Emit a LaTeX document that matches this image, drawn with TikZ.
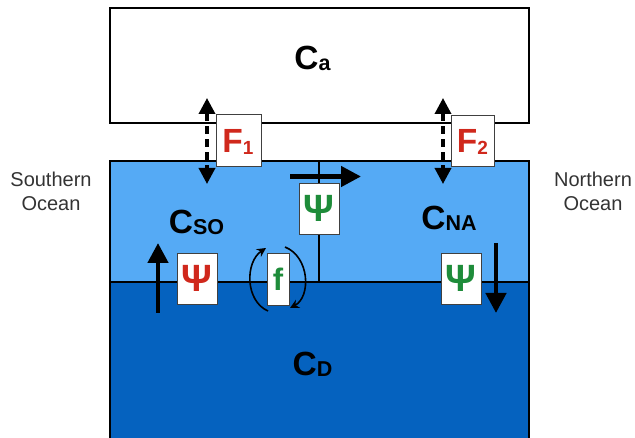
\documentclass[tikz,border=0pt]{standalone}
\usepackage{fontspec}
\setmainfont{Liberation Sans}
\usetikzlibrary{arrows.meta}
\definecolor{lightsea}{HTML}{55AAF5}
\definecolor{deepsea}{HTML}{0562BF}
\definecolor{fred}{HTML}{D0281C}
\definecolor{psigreen}{HTML}{1E8C3A}
\definecolor{oceantext}{HTML}{333333}
\newcommand{\cname}[2]{{\fontsize{33.5}{33.5}\selectfont\bfseries C}\raisebox{-1pt}{\fontsize{21.5}{21.5}\selectfont\bfseries #2}}
\newcommand{\fname}[1]{{\fontsize{33.5}{33.5}\selectfont\bfseries F}\raisebox{-2pt}{\fontsize{19}{19}\selectfont\bfseries #1}}
\newcommand{\psisym}{{\fontsize{38}{38}\selectfont\bfseries Ψ}}
\tikzset{
  labelbox/.style={draw=black!75, line width=0.8pt, fill=white, inner sep=0pt},
  clabel/.style={anchor=base, inner sep=0pt},
  flowarrow/.style={line width=4.5pt, -{Triangle[width=20pt,length=20pt]}},
  fluxarrow/.style={line width=3.5pt, dash pattern=on 8pt off 5pt, {Triangle[width=16pt,length=16pt]}-{Triangle[width=16pt,length=16pt]}},
  mixarrow/.style={line width=1.6pt, -{Stealth[width=9pt,length=9pt]}},
  oceanlbl/.style={text=oceantext, font=\fontsize{20}{24}\selectfont, align=center}
}
\begin{document}
\begin{tikzpicture}[x=1pt,y=-1pt]
\useasboundingbox (0,0) rectangle (635,438);
% ocean layers
\fill[lightsea] (110,161) rectangle (529,282);
\fill[deepsea] (110,282) rectangle (529,438);
\draw[line width=1.2pt] (110,282) -- (529,282);
\draw[line width=2pt] (110,438) -- (110,161) -- (529,161) -- (529,438);
% atmosphere
\node[draw, line width=1.5pt, fill=white, minimum width=419pt, minimum height=115pt, inner sep=0pt] (atm) at (319.5,65.5) {};
\node[clabel] (ca) at (312.5,70) {\cname{C}{a}};
% vertical divider
\coordinate (divtop) at (319,161);
\coordinate (divbot) at (319,282);
\draw[line width=2.5pt] (divtop) -- (divbot);
% ocean labels
\node[clabel] (cso) at (196.5,234) {\cname{C}{SO}};
\node[clabel] (cna) at (449,230) {\cname{C}{NA}};
\node[clabel] (cd) at (312.5,376) {\cname{C}{D}};
\node[oceanlbl] (so) at (51,191) {Southern\\Ocean};
\node[oceanlbl] (no) at (593,191) {Northern\\Ocean};
% air-sea fluxes
\coordinate (f1top) at (207,98);
\coordinate (f1bot) at (207,184);
\coordinate (f2top) at (443,98);
\coordinate (f2bot) at (443,184);
\draw[fluxarrow] (f1top) -- (f1bot);
\draw[fluxarrow] (f2top) -- (f2bot);
\node[labelbox, minimum width=45pt, minimum height=52pt] (F1) at (239,140) {};
\node[labelbox, minimum width=43pt, minimum height=51pt] (F2) at (472.5,140.5) {};
\node[clabel, text=fred] (F1t) at (238,153) {\fname{1}};
\node[clabel, text=fred] (F2t) at (472.5,153) {\fname{2}};
% overturning
\coordinate (topa) at (290,176.5);
\coordinate (topb) at (361,176.5);
\draw[flowarrow] (topa) -- (topb);
\node[labelbox, minimum width=40pt, minimum height=51pt, text=psigreen] (psitop) at (319,208.5) {\psisym};
\coordinate (upa) at (158,313);
\coordinate (upb) at (158,243);
\draw[flowarrow] (upa) -- (upb);
\node[labelbox, minimum width=40pt, minimum height=51pt, text=fred] (psil) at (197,278.5) {\psisym};
\coordinate (dna) at (496,243);
\coordinate (dnb) at (496,313);
\draw[flowarrow] (dna) -- (dnb);
\node[labelbox, minimum width=40pt, minimum height=51pt, text=psigreen] (psir) at (461,278.5) {\psisym};
% mixing
\node[labelbox, minimum width=22pt, minimum height=52pt, text=psigreen] (fmix) at (278,279) {\fontsize{31}{31}\selectfont\bfseries f};
\draw[mixarrow] (268,311) .. controls (245,301) and (245,262) .. (266,248);
\draw[mixarrow] (285,247) .. controls (310,257) and (311,297) .. (290,308);
\end{tikzpicture}
\end{document}
